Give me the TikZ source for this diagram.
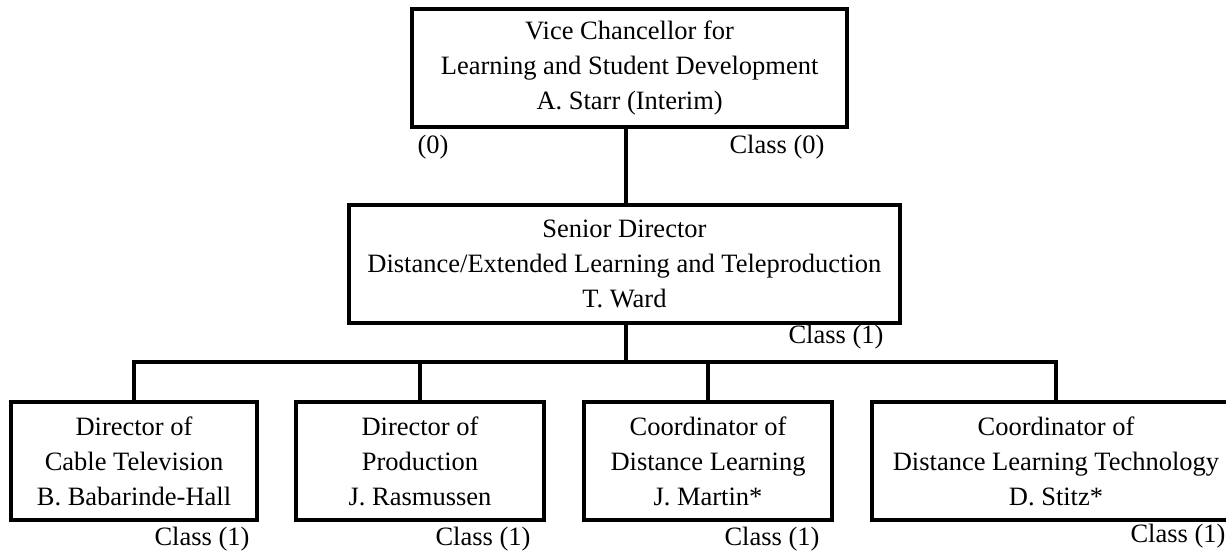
\documentclass[tikz,border=0pt]{standalone}
\usepackage{fontspec}
\setmainfont{Liberation Serif}
\usetikzlibrary{positioning}
\newcommand{\orgfont}{\fontsize{18.85}{24.9}\selectfont}

\begin{document}
\begin{tikzpicture}[
  orgbox/.style={draw, line width=2.6pt, align=center, inner sep=4pt, minimum height=2.95cm, font=\orgfont},
  classlabel/.style={inner sep=0pt, font=\orgfont},
  orgline/.style={line width=2.6pt}
]
  \useasboundingbox (0,0) rectangle (30.65,-13.825);

  % Vice Chancellor
  \node[orgbox, minimum width=10.875cm] (vc) at (15.74,-1.7) {Vice Chancellor for\\Learning and Student Development\\A. Starr (Interim)};
  \node[classlabel] (vczero) at (10.825,-3.675) {(0)};
  \node[classlabel] (vcclass) at (19.425,-3.675) {Class (0)};

  % Senior Director
  \node[orgbox, minimum width=13.775cm] (senior) at (15.61,-6.6) {Senior Director\\Distance/Extended Learning and Teleproduction\\T. Ward};
  \node[classlabel] (seniorclass) at (20.9,-8.425) {Class (1)};

  % Directors and coordinators
  \node[orgbox, minimum width=6.15cm] (cable) at (3.35,-11.525) {Director of\\Cable Television\\B. Babarinde-Hall};
  \node[orgbox, minimum width=6.2cm] (prod) at (10.5,-11.525) {Director of\\Production\\J. Rasmussen};
  \node[orgbox, minimum width=6.2cm] (dlearn) at (17.7,-11.525) {Coordinator of\\Distance Learning\\J. Martin*};
  \node[orgbox, minimum width=9.2cm] (dltech) at (26.4,-11.525) {Coordinator of\\Distance Learning Technology\\D. Stitz*};

  \node[classlabel] (cableclass) at (5.05,-13.475) {Class (1)};
  \node[classlabel] (prodclass) at (12.075,-13.475) {Class (1)};
  \node[classlabel] (dlearnclass) at (19.3,-13.475) {Class (1)};
  \node[classlabel] (dltechclass) at (29.45,-13.4) {Class (1)};

  % Connectors
  \coordinate (trunk) at (15.65,-9.05);
  \draw[orgline] (vc.south -| trunk) -- (senior.north -| trunk);
  \draw[orgline] (senior.south -| trunk) -- (trunk);
  \draw[orgline] (cable.north) |- (dltech.north |- trunk) -- (dltech.north);
  \draw[orgline] (prod.north) -- (prod.north |- trunk);
  \draw[orgline] (dlearn.north) -- (dlearn.north |- trunk);
\end{tikzpicture}
\end{document}
